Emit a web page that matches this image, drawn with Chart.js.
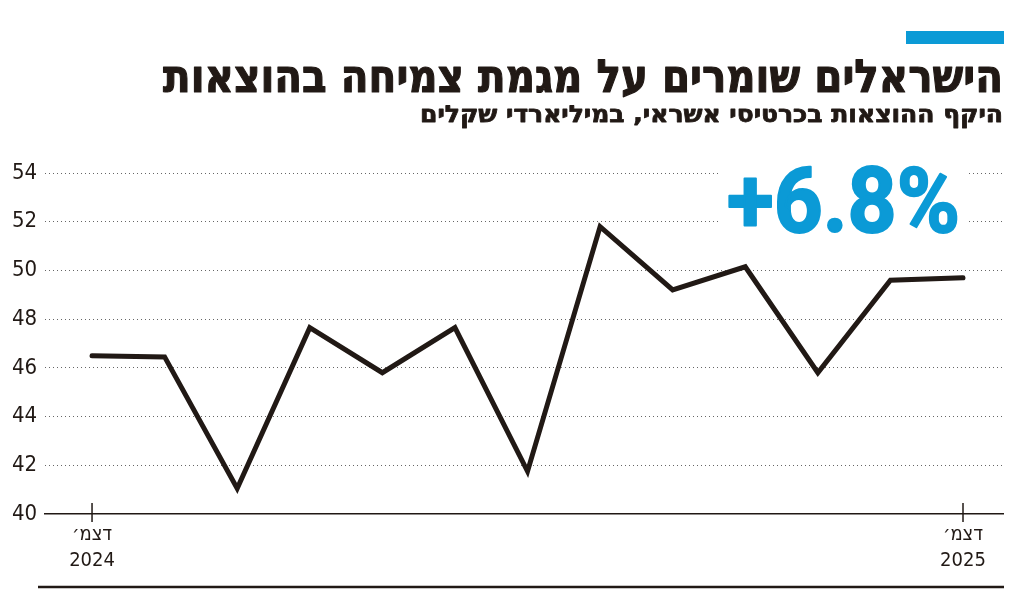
<!DOCTYPE html>
<html lang="he">
<head>
<meta charset="utf-8">
<script src="https://cdn.jsdelivr.net/npm/chart.js@4"></script>
<style>
  html, body { margin: 0; padding: 0; background: #fff; }
  canvas { display: block; }
</style>
</head>
<body>
<canvas id="spendingChart" width="1024" height="596"></canvas>
<script>
// monthly credit card spending, Dec 2024 - Dec 2025 (billions of shekels)
const months = ['דצמ׳ 24', 'ינו׳', 'פבר׳', 'מרץ', 'אפר׳', 'מאי', 'יוני', 'יולי', 'אוג׳', 'ספט׳', 'אוק׳', 'נוב׳', 'דצמ׳ 25'];
const spending = [46.5, 46.45, 41.05, 47.65, 45.8, 47.65, 41.75, 51.8, 49.2, 50.15, 45.8, 49.6, 49.7];
const yTicks = [40, 42, 44, 46, 48, 50, 52, 54];
const xTickIndexes = [0, 12];
const xTickLabels = [['דצמ׳', '2024'], ['דצמ׳', '2025']];

const title = 'הישראלים שומרים על מגמת צמיחה בהוצאות';
const subtitle = 'היקף ההוצאות בכרטיסי אשראי, במיליארדי שקלים';
const changeLabel = '+6.8%';

const INK = '#211915';
const BLUE = '#0b9ad6';

// draw text squeezed/stretched to a given width, with optional extra weight
function fitText(ctx, text, x, y, width, align, weight) {
  const w = ctx.measureText(text).width;
  ctx.save();
  ctx.translate(x, y);
  ctx.scale(width / w, 1);
  ctx.textAlign = align;
  ctx.fillText(text, 0, 0);
  if (weight) {
    ctx.lineWidth = weight;
    ctx.strokeStyle = ctx.fillStyle;
    ctx.lineJoin = 'round';
    ctx.strokeText(text, 0, 0);
  }
  ctx.restore();
}

const decorations = {
  id: 'decorations',
  afterDraw(chart) {
    const ctx = chart.ctx;
    const xScale = chart.scales.x;
    const yScale = chart.scales.y;

    ctx.save();
    // blue bar above title
    ctx.fillStyle = BLUE;
    ctx.fillRect(906, 31, 98, 13);

    // title + subtitle
    ctx.fillStyle = INK;
    ctx.direction = 'rtl';
    ctx.textBaseline = 'alphabetic';
    ctx.font = 'bold 46px "DejaVu Sans"';
    fitText(ctx, title, 1003, 92, 840, 'right', 1.2);
    ctx.font = 'bold 23px "DejaVu Sans"';
    fitText(ctx, subtitle, 1003, 122, 583, 'right', 0.8);

    // big change figure over a white box
    ctx.direction = 'ltr';
    ctx.fillStyle = '#fff';
    ctx.fillRect(718, 160, 248, 80);
    ctx.fillStyle = BLUE;
    ctx.font = 'bold 90px Roboto';
    fitText(ctx, changeLabel, 727, 232, 233, 'left', 2);

    // tick marks crossing the x axis
    ctx.strokeStyle = INK;
    ctx.lineWidth = 1.5;
    const axisY = yScale.getPixelForValue(40);
    xTickIndexes.forEach(i => {
      const px = xScale.getPixelForValue(i);
      ctx.beginPath();
      ctx.moveTo(px, axisY - 11);
      ctx.lineTo(px, axisY + 8);
      ctx.stroke();
    });

    // bottom rule
    ctx.lineWidth = 2.5;
    ctx.beginPath();
    ctx.moveTo(38, 587);
    ctx.lineTo(1004, 587);
    ctx.stroke();
    ctx.restore();
  }
};

const ctx = document.getElementById('spendingChart').getContext('2d');
new Chart(ctx, {
  type: 'line',
  data: {
    labels: months,
    datasets: [{
      label: 'היקף ההוצאות',
      data: spending.map((v, i) => ({ x: i, y: v })),
      borderColor: INK,
      borderWidth: 5,
      borderCapStyle: 'round',
      borderJoinStyle: 'miter',
      pointRadius: 0,
      tension: 0,
      fill: false
    }]
  },
  options: {
    responsive: false,
    animation: false,
    layout: { padding: { top: 173, right: 21, left: 12, bottom: 0 } },
    plugins: {
      legend: { display: false },
      tooltip: { enabled: false }
    },
    scales: {
      x: {
        type: 'linear',
        min: -0.648,
        max: 12.551,
        afterBuildTicks: scale => {
          scale.ticks = xTickIndexes.map(v => ({ value: v }));
        },
        afterFit: scale => { scale.height = 82; },
        grid: { display: false },
        border: { display: true, color: INK, width: 1.5 },
        ticks: {
          maxRotation: 0,
          autoSkip: false,
          padding: 0,
          color: INK,
          font: { family: '"DejaVu Sans Condensed", "DejaVu Sans"', size: 20, lineHeight: 1.3 },
          callback: value => xTickLabels[xTickIndexes.indexOf(value)]
        }
      },
      y: {
        min: 40,
        max: 54,
        afterBuildTicks: scale => {
          scale.ticks = yTicks.map(v => ({ value: v }));
        },
        afterFit: scale => { scale.width = 33; },
        grid: {
          drawTicks: false,
          color: c => (c.tick && c.tick.value === 40 ? 'rgba(0,0,0,0)' : '#666'),
          lineWidth: 1
        },
        border: { display: false, dash: [1, 3] },
        ticks: {
          crossAlign: 'far',
          padding: 10,
          color: INK,
          font: { family: '"Liberation Sans Narrow", "DejaVu Sans Condensed"', size: 22 }
        }
      }
    }
  },
  plugins: [decorations]
});
</script>
</body>
</html>
